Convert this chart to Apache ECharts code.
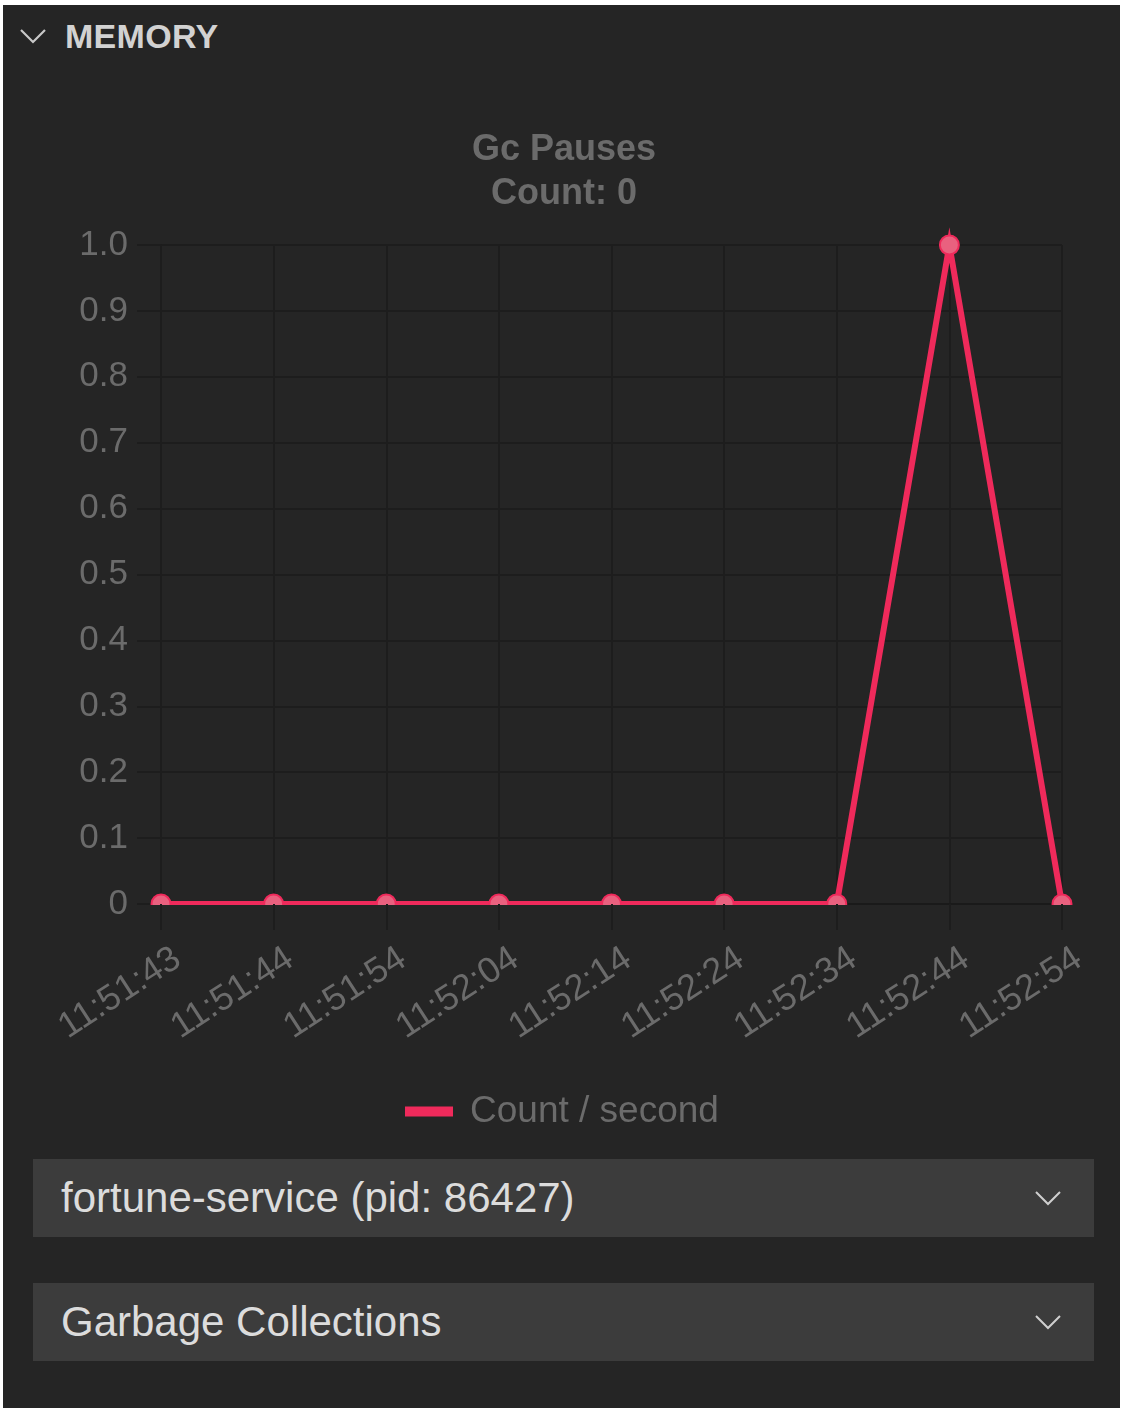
<!DOCTYPE html>
<html>
<head>
<meta charset="utf-8">
<title>Memory - Gc Pauses</title>
<script src="https://cdn.jsdelivr.net/npm/echarts@6/dist/echarts.min.js"></script>
<style>
  html, body { margin: 0; padding: 0; background: #ffffff; }
  body { width: 1122px; height: 1410px; position: relative; overflow: hidden; }
  #panel {
    position: absolute; left: 3px; top: 5px; width: 1117px; height: 1403px;
    background: #252525;
  }
  #chart { position: absolute; left: 0; top: 0; width: 1122px; height: 1410px; }
  .header {
    position: absolute; left: 65px; top: 17px;
    font-family: "Liberation Sans", Arial, sans-serif; font-weight: bold;
    font-size: 34px; color: #d2d2d2; letter-spacing: 0.3px;
  }
  .chev { position: absolute; }
  .dropdown {
    position: absolute; left: 33px; width: 1061px; height: 78px;
    background: #3c3c3c;
    font-family: "Liberation Sans", Arial, sans-serif; font-size: 42px;
    color: #dcdcdc; line-height: 78px; box-sizing: border-box; padding-left: 28px;
  }
</style>
</head>
<body>
<div id="panel"></div>
<svg class="chev" style="left:18px;top:27px" width="32" height="20">
  <polyline points="3,3 15,15 27,3" fill="none" stroke="#c8c8c8" stroke-width="2.2"/>
</svg>
<div class="header">MEMORY</div>
<div class="dropdown" style="top:1159px">fortune-service (pid: 86427)
  <svg class="chev" style="left:1000px;top:30px" width="32" height="20">
    <polyline points="3,3 15,15 27,3" fill="none" stroke="#cfcfcf" stroke-width="2"/>
  </svg>
</div>
<div class="dropdown" style="top:1283px">Garbage Collections
  <svg class="chev" style="left:1000px;top:30px" width="32" height="20">
    <polyline points="3,3 15,15 27,3" fill="none" stroke="#cfcfcf" stroke-width="2"/>
  </svg>
</div>
<div id="chart"></div>
<script>
// sample times along the x axis
const timeLabels = ['11:51:43', '11:51:44', '11:51:54', '11:52:04', '11:52:14',
                    '11:52:24', '11:52:34', '11:52:44', '11:52:54'];
// gc pause count per second at each sample
const countPerSecond = [0, 0, 0, 0, 0, 0, 0, 1, 0];
const seriesName = 'Count / second';
const chartTitle = 'Gc Pauses\nCount: 0';

const gridColor = '#1d1d1d';
const textColor = '#6b6b6b';
const lineColor = '#ef2a5b';
const fontFamily = '"Liberation Sans", Arial, sans-serif';

const chart = echarts.init(document.getElementById('chart'), null, { renderer: 'canvas' });

const grid = { left: 161, right: 60, top: 245, bottom: 506 };

chart.setOption({
  backgroundColor: 'transparent',
  animation: false,
  title: {
    text: chartTitle,
    left: 564,
    top: 128,
    padding: 0,
    textAlign: 'center',
    textStyle: {
      fontFamily, fontSize: 36, fontWeight: 'bold', color: textColor, lineHeight: 44
    }
  },
  legend: {
    data: [{ name: seriesName, icon: 'rect', itemStyle: { color: lineColor, borderWidth: 0 } }],
    left: 405,
    top: 1093,
    padding: 0,
    itemWidth: 48,
    itemHeight: 10,
    itemGap: 0,
    textStyle: { fontFamily, fontSize: 37, color: textColor, padding: [0, 0, 0, 12] }
  },
  grid: grid,
  xAxis: [
    {
      type: 'category',
      data: timeLabels,
      boundaryGap: false,
      axisLine: { show: true, lineStyle: { color: '#1a1a1a', width: 2 } },
      axisTick: { show: false },
      splitLine: { show: true, lineStyle: { color: gridColor, width: 2 } },
      axisLabel: {
        rotate: 33,
        margin: 41,
        fontFamily, fontSize: 36, color: textColor,
        align: 'right', verticalAlign: 'top',
        padding: [0, -8, 0, 0],
        interval: 0
      }
    },
    {
      // tick marks drawn above the mask that trims the baseline markers
      type: 'category',
      data: timeLabels,
      boundaryGap: false,
      position: 'bottom',
      z: 120,
      axisLine: { show: false },
      axisLabel: { show: false },
      splitLine: { show: false },
      axisTick: { show: true, length: 26, alignWithLabel: true, interval: 0,
                  lineStyle: { color: gridColor, width: 2 } }
    }
  ],
  yAxis: {
    type: 'value',
    min: 0,
    max: 1,
    interval: 0.1,
    axisLine: { show: true, lineStyle: { color: gridColor, width: 2 } },
    axisTick: { show: true, length: 24, lineStyle: { color: gridColor, width: 2 } },
    splitLine: { show: true, lineStyle: { color: gridColor, width: 2 } },
    axisLabel: {
      margin: 33,
      fontFamily, fontSize: 35, color: textColor,
      formatter: v => (v === 0 ? '0' : v.toFixed(1))
    }
  },
  series: [{
    name: seriesName,
    type: 'line',
    data: countPerSecond,
    xAxisIndex: 0,
    clip: false,
    symbol: 'circle',
    symbolSize: 19,
    showAllSymbol: true,
    lineStyle: { color: lineColor, width: 6, join: 'miter', miterLimit: 20 },
    itemStyle: { color: '#e9617f', borderColor: lineColor, borderWidth: 2 },
    emphasis: { disabled: true }
  }]
});

// mask everything under the zero line so baseline markers read as half circles
function drawMask() {
  const y0 = chart.convertToPixel({ yAxisIndex: 0 }, 0);
  chart.setOption({
    graphic: [{
      type: 'rect',
      z: 110,
      silent: true,
      shape: { x: 145, y: y0 + 1, width: 940, height: 14 },
      style: { fill: '#252525' }
    }]
  });
}
drawMask();
</script>
</body>
</html>
